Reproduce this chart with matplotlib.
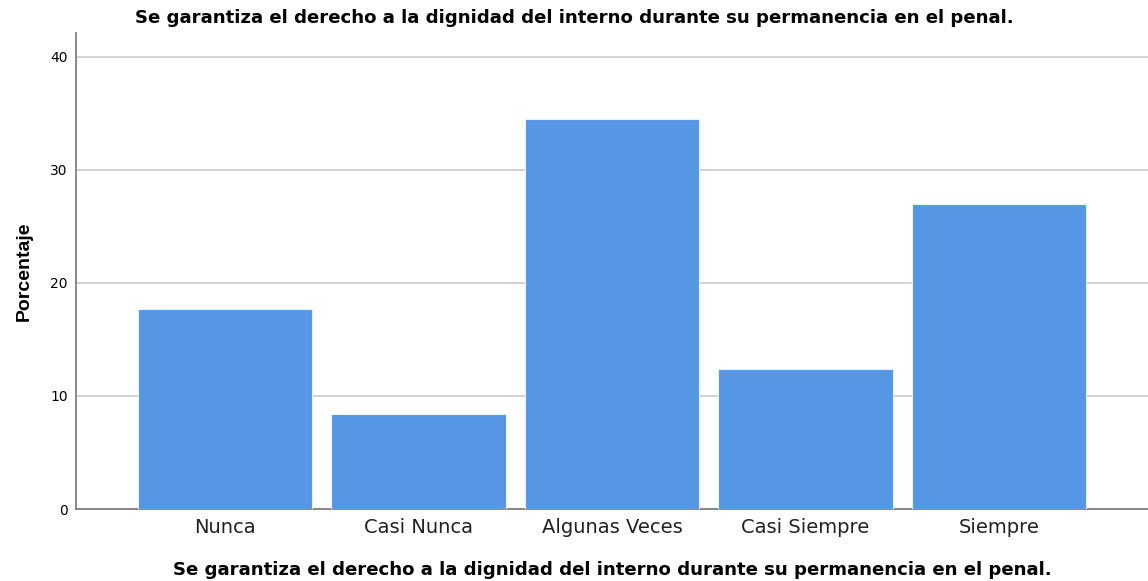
import numpy as np
import matplotlib.pyplot as plt

categorias = ["Nunca", "Casi Nunca", "Algunas Veces", "Casi Siempre", "Siempre"]
porcentaje = [17.7, 8.4, 34.5, 12.4, 27.0]
yticks = [0, 10, 20, 30, 40]
titulo = "Se garantiza el derecho a la dignidad del interno durante su permanencia en el penal."

plt.rcParams['font.family'] = ['DejaVu Sans']

fig = plt.figure(figsize=(11.48, 5.81), dpi=100)
ax = fig.add_axes([0.0662, 0.1239, 0.9338, 0.8191])

x = np.arange(len(categorias))
ax.bar(x, porcentaje, width=0.9, color="#5596e5", edgecolor="#e8f0fb", linewidth=0.8, zorder=3)

ax.set_xlim(-0.77, 4.77)
ax.set_ylim(0, 42.1)
ax.set_yticks(yticks)
ax.set_xticks(x)
ax.set_xticklabels(categorias, fontsize=14, color="#222222")
ax.tick_params(axis='y', length=0, labelsize=10, pad=6)
ax.tick_params(axis='x', length=0, pad=6.5)
ax.yaxis.grid(True, color="#cccccc", linewidth=1.2, zorder=0)

for s in ["top", "right"]:
    ax.spines[s].set_visible(False)
for s in ["left", "bottom"]:
    ax.spines[s].set_color("#777777")
    ax.spines[s].set_linewidth(1.2)

ax.set_ylabel("Porcentaje", fontsize=14, fontweight="bold",
              family=["Liberation Sans Narrow", "Liberation Sans"])
ax.yaxis.set_label_coords(-0.040, 0.5)
ax.set_xlabel(titulo, fontsize=13.1, fontweight="bold", labelpad=17)
fig.text(0.5, 0.969, titulo, ha="center", va="center", fontsize=13.1, fontweight="bold")

fig.savefig("out.png", dpi=100)
